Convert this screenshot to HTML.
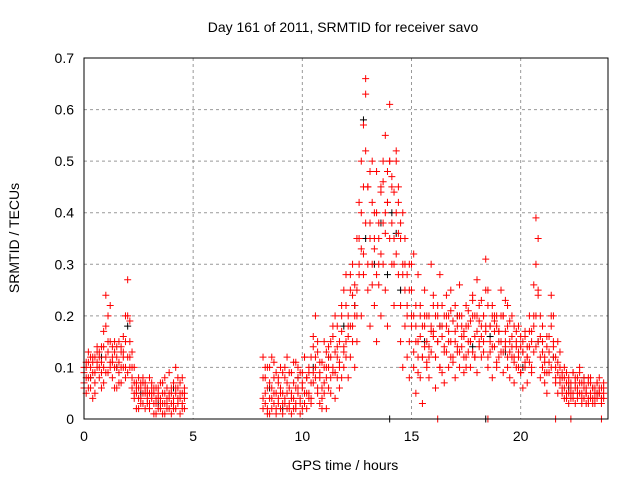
<!DOCTYPE html>
<html><head><meta charset="utf-8"><style>
body{margin:0;background:#fff;}
svg text{font-family:"Liberation Sans",sans-serif;font-size:14px;fill:#000;}
</style></head><body>
<svg id="chart" width="640" height="480" xmlns="http://www.w3.org/2000/svg">
<rect width="640" height="480" fill="#fff"/>
<text x="343" y="32" text-anchor="middle">Day 161 of 2011, SRMTID for receiver savo</text>
<text x="345" y="470" text-anchor="middle">GPS time / hours</text>
<text transform="translate(19,238) rotate(-90)" text-anchor="middle">SRMTID / TECUs</text>
<g id="grid"></g>
<g id="ticks"></g>
<g id="black"></g>
<g id="red"></g>
<rect x="84" y="58" width="524" height="361" fill="none" stroke="#000"/>
</svg>
<script>
const xTicks=[0,5,10,15,20];
const yTicks=[0,0.1,0.2,0.3,0.4,0.5,0.6,0.7];
const redT=[0,0.1,0.2,0.3,0.4,0.5,0.6,0.7,0.8,0.9,1.0,1.1,1.2,1.3,1.4,1.5,1.6,1.7,1.8,1.9,2.0,2.1,2.2,2.3,2.4,2.5,2.6,2.7,2.8,2.9,3.0,3.1,3.2,3.3,3.4,3.5,3.6,3.7,3.8,3.9,4.0,4.1,4.2,4.3,4.4,4.5,4.6,
8.2,8.3,8.4,8.5,8.6,8.7,8.8,8.9,9.0,9.1,9.2,9.3,9.4,9.5,9.6,9.7,9.8,9.9,10.0,10.1,10.2,10.3,10.4,10.5,10.6,10.7,10.8,10.9,11.0,11.1,11.2,11.3,11.4,11.5,11.6,11.7,11.8,11.9,12.0,12.1,12.2,12.3,12.4,12.5,12.6,12.7,12.8,12.9,13.0,13.1,13.2,13.3,13.4,13.5,13.6,13.7,13.8,13.9,14.0,14.1,14.2,14.3,14.4,14.5,14.6,14.7,14.8,14.9,15.0,15.1,15.2,15.3,15.4,15.5,15.6,15.7,15.8,15.9,16.0,16.1,16.2,16.3,16.4,16.5,16.6,16.7,16.8,16.9,17.0,17.1,17.2,17.3,17.4,17.5,17.6,17.7,17.8,17.9,18.0,18.1,18.2,18.3,18.4,18.5,18.6,18.7,18.8,18.9,19.0,19.1,19.2,19.3,19.4,19.5,19.6,19.7,19.8,19.9,20.0,20.1,20.2,20.3,20.4,20.5,20.6,20.7,20.8,20.9,21.0,21.1,21.2,21.3,21.4,21.5,21.6,21.7,21.8,21.9,22.0,22.1,22.2,22.3,22.4,22.5,22.6,22.7,22.8,22.9,23.0,23.1,23.2,23.3,23.4,23.5,23.6,23.7,23.8];
const redV1=[.07,.05,.08,.06,.04,.07,.1,.08,.06,.1,.12,.09,.11,.08,.1,.06,.09,.07,.1,.08,.12,.1,.06,.04,.02,.04,.03,.05,.02,.04,.03,.05,.01,.03,.02,.04,.01,.03,.02,.04,.01,.03,.02,.04,.01,.03,.02,
.12,.05,.02,.04,.12,.03,.01,.07,.02,.05,.08,.02,.06,.01,.04,.02,.05,.01,.06,.03,.08,.05,.12,.16,.2,.13,.09,.04,.07,.1,.14,.05,.09,.13,.08,.11,.17,.1,.15,.08,.25,.18,.22,.35,.28,.2,.57,.66,.45,.38,.3,.22,.48,.35,.44,.3,.55,.42,.61,.47,.35,.52,.28,.38,.3,.25,.2,.3,.18,.1,.22,.15,.08,.12,.25,.1,.2,.3,.17,.12,.2,.1,.16,.13,.24,.1,.15,.12,.22,.18,.1,.14,.17,.22,.13,.1,.2,.16,.27,.19,.23,.15,.31,.1,.18,.22,.14,.2,.12,.25,.09,.14,.18,.08,.2,.12,.15,.18,.09,.13,.1,.07,.14,.15,.26,.39,.24,.12,.1,.07,.14,.09,.24,.2,.08,.15,.1,.06,.04,.07,.03,.06,.05,.08,.04,.07,.03,.06,.05,.07,.04,.06,.03,.07,.05,.04,.06];
const redV2=[.09,.11,.13,.1,.09,.12,.14,.13,.11,.17,.24,.2,.22,.14,.15,.12,.15,.13,.16,.2,.27,.19,.13,.1,.07,.08,.06,.08,.07,.06,.08,.07,.05,.06,.04,.07,.05,.08,.06,.09,.05,.07,.1,.06,.05,.08,.04,
.02,.08,.1,.01,.06,.08,.05,.03,.1,.01,.04,.12,.03,.09,.07,.11,.08,.04,.09,.12,.02,.1,.04,.07,.1,.05,.03,.11,.15,.02,.06,.12,.16,.04,.18,.06,.22,.14,.28,.2,.12,.3,.1,.15,.42,.5,.32,.63,.25,.18,.5,.4,.15,.26,.2,.38,.25,.18,.5,.3,.22,.4,.45,.15,.1,.35,.12,.08,.25,.32,.05,.28,.2,.03,.18,.15,.08,.13,.24,.06,.15,.28,.22,.07,.18,.2,.25,.19,.08,.13,.26,.2,.09,.12,.18,.15,.24,.12,.09,.14,.12,.2,.17,.25,.13,.08,.19,.1,.17,.15,.2,.23,.1,.13,.16,.07,.1,.12,.14,.06,.16,.12,.2,.1,.18,.3,.15,.08,.18,.12,.05,.13,.1,.15,.12,.05,.13,.09,.1,.05,.08,.04,.09,.03,.06,.1,.05,.08,.03,.04,.08,.03,.05,.04,.06,.03,.05];
const redV3=[.1,.08,.06,.12,.11,.09,.13,.1,.09,.14,.18,.13,.15,.12,.13,.1,.11,.14,.12,.1,.2,.15,.1,.07,.05,.06,.04,.07,.05,.03,.05,.06,.03,.04,.06,.02,.03,.05,.04,.02,.06,.04,.05,.03,.07,.05,.06,
.08,.03,.06,.1,.02,.05,.09,.04,.06,.03,.1,.07,.02,.05,.11,.03,.06,.09,.02,.05,.08,.04,.07,.09,.12,.06,.08,.02,
.1,.08,.12,.15,.1,.2,.14,.1,.2,.13,.22,.16,.18,.24,.2,
.25,.35,.4,.28,.52,.45,.35,.42,.33,.28,.38,.32,.46,.36,.42,.5,.38,.44,.32,.42,.35,.28,.3,.22,.25,.2,
.2,.15,.12,.22,.18,.14,.2,.12,.18,.16,.2,.22,.1,.18,.14,.2,.17,.12,.19,.15,.14,.2,.16,.12,.18,.21,.15,.13,.2,.17,.22,.16,.2,.18,.22,.15,.2,.17,.18,.15,.2,.13,.17,.22,.15,.12,.18,.14,.1,.16,.13,.17,.12,.11,.17,.13,.2,.25,.16,
.15,.11,.09,.16,.18,.12,.1,.09,.07,.08,.06,.09,.05,.07,.04,.06,.08,.05,.07,.04,.06,.08,.05,.06,.04,.07,.05,.06,.04];
const redV4=[.06,.1,.11,.08,.12,.05,.11,.12,.14,.07,.09,.15,.1,.11,.06,.14,.07,.1,.13,.15,.09,.12,.08,.05,.06,.02,.07,.03,.06,.05,.02,.04,.06,.01,.05,.03,.07,.01,.03,.05,.03,.02,.06,.08,.04,.02,.05,
.04,.1,.01,.07,.04,.11,.02,.08,.05,.09,.03,.05,.09,.04,.02,.06,.1,.03,.07,.12,.05,.09,.03,.14,.08,.15,.11,.06,
.05,.13,.1,.08,.18,.09,.12,.15,.08,.25,.12,.18,.28,.15,.26,
.2,.3,.33,.45,.38,.3,.48,.26,.35,.4,.3,.45,.5,.4,.48,.35,.45,.3,.5,.36,.22,.4,.18,.28,.15,.3,
.13,.18,.09,.16,.12,.2,.11,.14,.17,.22,.12,.15,.18,.09,.2,.13,.15,.21,.11,.17,.2,.13,.18,.16,.1,.15,.19,.23,.12,.2,.15,.18,.13,.25,.12,.18,.14,.2,.11,.17,.13,.2,.15,.12,.19,.14,.11,.17,.13,.09,.15,.11,.14,.17,.09,.2,.14,.35,.2,
.13,.09,.16,.11,.2,.14,.07,.11,.08,.05,.08,.04,.07,.05,.09,.07,.05,.09,.04,.07,.05,.03,.07,.04,.06,.05,.08,.04,.07];
const redZeroT=[16.2,18.5,21.6,22.3,23.7];
const blackT=[0.3,0.8,1.5,2.0,2.6,3.4,4.1,8.5,9.1,9.8,10.5,11.2,11.9,12.4,12.8,12.9,13.3,13.6,13.9,14.1,14.3,14.5,15.0,15.6,16.3,17.1,17.8,18.6,19.3,20.1,20.8,21.5,22.2,22.9,23.5,14.0,18.4];
const blackV=[.08,.12,.1,.18,.05,.03,.06,.06,.02,.08,.1,.12,.18,.22,.58,.35,.3,.38,.28,.4,.36,.25,.2,.15,.18,.2,.14,.16,.13,.1,.15,.12,.06,.08,.05,0,0];
const X=t=>84+t*(524/24), Y=v=>419-v*(361/0.7);
const NS="http://www.w3.org/2000/svg";
function mk(tag,attrs,parent){const e=document.createElementNS(NS,tag);for(const k in attrs)e.setAttribute(k,attrs[k]);parent.appendChild(e);return e;}
const grid=document.getElementById('grid'),ticks=document.getElementById('ticks');
xTicks.forEach(t=>{
  if(t>0){const l=mk('line',{x1:X(t),x2:X(t),y1:58,y2:419,stroke:'#999','stroke-dasharray':'3,3'},grid);
  
  }
  const tx=mk('text',{x:X(t),y:441,'text-anchor':'middle'},ticks);tx.textContent=t;
  
  
});
yTicks.forEach(v=>{
  if(v>0&&v<0.7){const l=mk('line',{x1:84,x2:608,y1:Y(v),y2:Y(v),stroke:'#999','stroke-dasharray':'3,3'},grid);
  
  }
  const tx=mk('text',{x:74,y:Y(v)+5,'text-anchor':'end'},ticks);tx.textContent=v===0?'0':v.toFixed(1);
  
  
});
function plus(g,t,v,c){if(v===undefined)return;const x=X(t),y=Y(v);
  const p=mk('path',{d:`M${x-3.5},${y}H${x+3.5}M${x},${y-3.5}V${y+3.5}`,stroke:c,'stroke-width':1,fill:'none'},g);
  
  }
const bg=document.getElementById('black'),rg=document.getElementById('red');
blackT.forEach((t,i)=>plus(bg,t,blackV[i],'#000'));
redT.forEach((t,i)=>{plus(rg,t,redV1[i],'#f00');plus(rg,t,redV2[i],'#f00');plus(rg,t,redV3[i],'#f00');plus(rg,t,redV4[i],'#f00');});
redZeroT.forEach(t=>plus(rg,t,0,'#f00'));
</script>
</body></html>
